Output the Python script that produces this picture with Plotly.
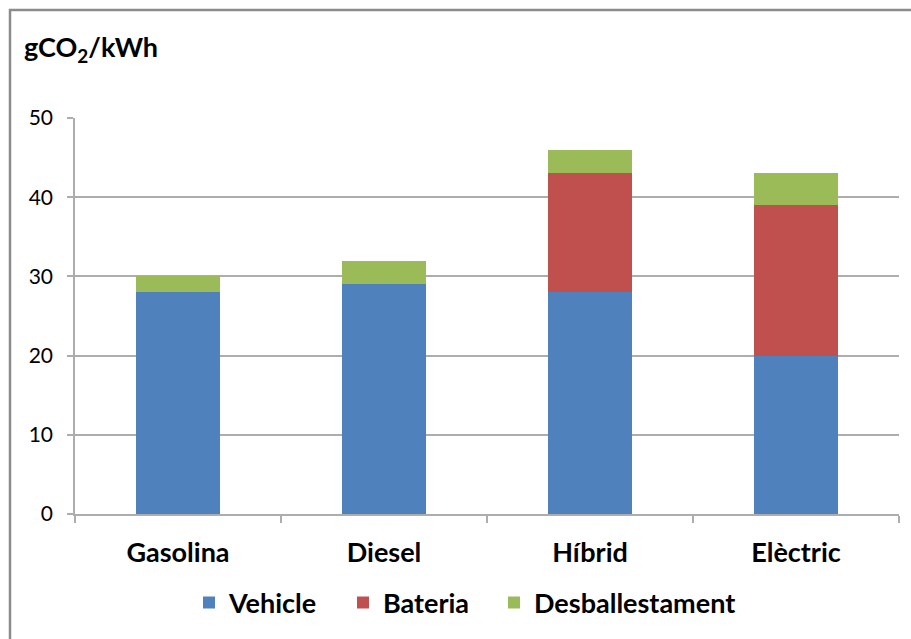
import plotly.graph_objects as go

categories = ["Gasolina", "Diesel", "Híbrid", "Elèctric"]
vehicle = [28, 29, 28, 20]
bateria = [0, 0, 15, 19]
desballestament = [2, 3, 3, 4]
y_ticks = [0, 10, 20, 30, 40, 50]

W, H = 911, 639
L, R, T, B = 75, 12, 118, 125
pw, ph = W - L - R, H - T - B

font_family = "Lato, 'Open Sans', sans-serif"
grid_col = "#adadad"

series = [
    ("Vehicle", vehicle, "#4F81BD", "legend", 189),
    ("Bateria", bateria, "#C0504D", "legend2", 343),
    ("Desballestament", desballestament, "#9BBB59", "legend3", 494),
]

fig = go.Figure()
legend_layout = {}
for name, vals, col, leg, lx in series:
    fig.add_trace(go.Bar(
        x=categories, y=vals, name=name, legend=leg,
        marker=dict(color=col, line=dict(width=0)),
    ))
    legend_layout[leg] = dict(
        orientation="h", x=(lx - L) / pw, xanchor="left",
        y=-(603 - 514) / ph, yanchor="middle",
        font=dict(size=27, family=font_family, weight="bold"),
        itemwidth=30, bgcolor="rgba(0,0,0,0)",
    )

fig.update_layout(
    width=W, height=H,
    barmode="stack", bargap=0.59,
    margin=dict(l=L, r=R, t=T, b=B, autoexpand=False),
    paper_bgcolor="white", plot_bgcolor="white",
    font=dict(family=font_family, color="#000000"),
    showlegend=True,
    xaxis=dict(
        showgrid=False, showline=True, linecolor=grid_col, linewidth=1.5,
        ticks="outside", tickson="boundaries", ticklen=7, tickcolor=grid_col,
        tickwidth=1.5, ticklabelstandoff=14,
        tickfont=dict(size=27, family=font_family, weight="bold"),
    ),
    yaxis=dict(
        range=[0, 50], tickvals=y_ticks,
        showgrid=True, gridcolor=grid_col, gridwidth=1.5,
        showline=True, linecolor=grid_col, linewidth=1.5,
        ticks="outside", ticklen=6, tickcolor=grid_col, tickwidth=1.5,
        ticklabelstandoff=10,
        tickfont=dict(size=21, family=font_family),
        zeroline=False,
    ),
    **legend_layout,
)

# Axis title in the top-left corner
fig.add_annotation(
    text="<b>gCO<sub>2</sub>/kWh</b>",
    xref="paper", yref="paper",
    x=(22 - L) / pw, y=(H - B - 48) / ph,
    xanchor="left", yanchor="middle",
    showarrow=False, font=dict(size=27, family=font_family),
)

# Chart frame (top and left edges visible)
fig.add_shape(
    type="rect", xref="paper", yref="paper",
    x0=(10 - L) / pw, x1=(W + 20 - L) / pw,
    y0=-(H + 20 - (H - B)) / ph, y1=(H - B - 10) / ph,
    line=dict(color="#8c8c8c", width=2.5), fillcolor="rgba(0,0,0,0)",
    layer="below",
)

fig.write_html("out.html")
